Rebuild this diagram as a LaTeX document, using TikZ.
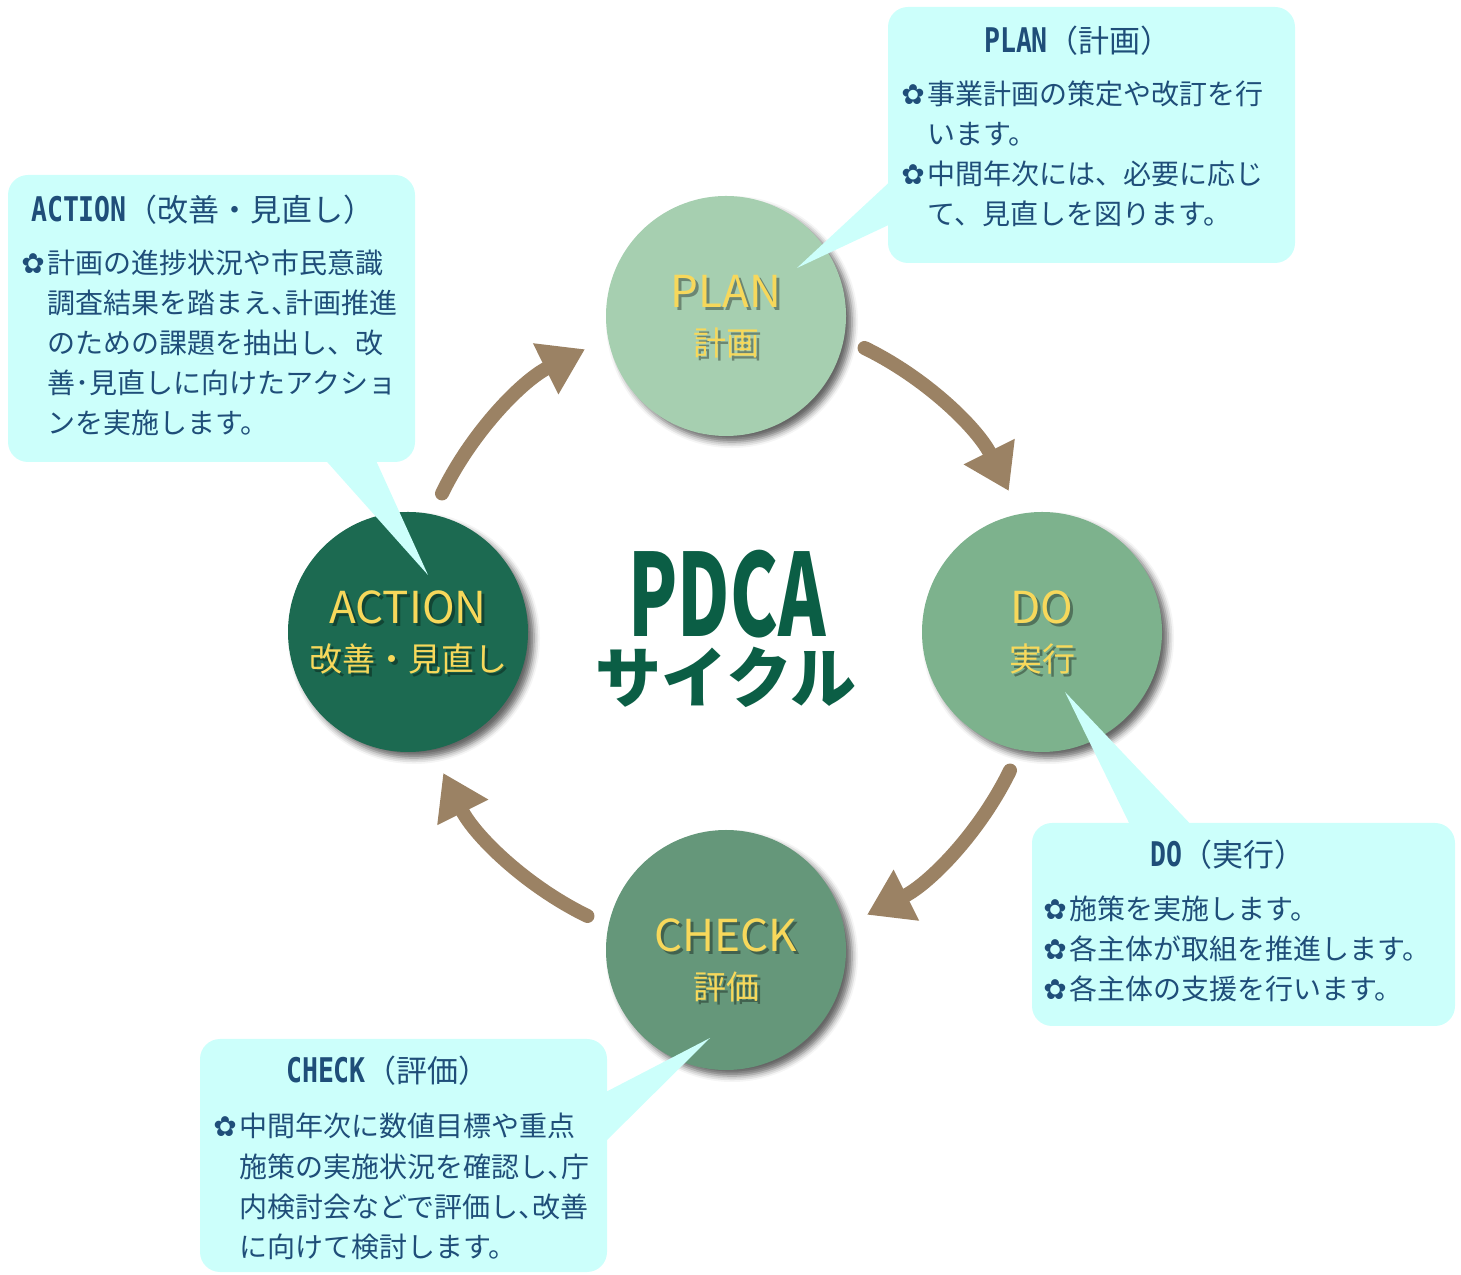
\documentclass[tikz,border=0pt]{standalone}
\usepackage{fontspec}
\setmainfont{Noto Sans CJK JP}
\newfontfamily\titlelatin{DejaVu Sans Mono}[FakeStretch=0.78]
\newfontfamily\flowerfont{DejaVu Sans}
\newfontfamily\pdcafont{Noto Sans CJK JP}[FakeStretch=0.63]
\usetikzlibrary{arrows.meta,shadows.blur}

\definecolor{planfill}{HTML}{A6CFB0}
\definecolor{dofill}{HTML}{7DB28D}
\definecolor{checkfill}{HTML}{65977A}
\definecolor{actionfill}{HTML}{1C6A51}
\definecolor{labelyellow}{HTML}{F7D85B}
\definecolor{pdcagreen}{HTML}{0B5E45}
\definecolor{notefill}{HTML}{CCFFFB}
\definecolor{noteblue}{HTML}{1F4E79}
\definecolor{cyclebrown}{HTML}{9B8264}

\newcommand{\flower}{\makebox[12pt][l]{\flowerfont\fontsize{14}{14}\selectfont\hspace{-1pt}✿}}
\newcommand{\indentbox}{\hphantom{\flower}}
\newcommand{\halfcomma}{{\addfontfeature{RawFeature=+halt}、}}

% yellow stage label with a soft shadow, inside a circle node
\newcommand{\stagelabels}[4][0pt]{%
  \node[stagemain, text=black, opacity=0.35] at ([shift={(1.5pt,2.5pt-#1)}]#2.center) {#3};
  \node[stagemain] (#2-main) at ([yshift=4pt-#1]#2.center) {#3};
  \node[stagesub, text=black, opacity=0.35] at ([shift={(1.5pt,-21.5pt-#1)}]#2.center) {#4};
  \node[stagesub] (#2-sub) at ([yshift=-20pt-#1]#2.center) {#4};
}

\tikzset{
  stage/.style={circle, minimum size=120pt, inner sep=0pt,
    blur shadow={shadow xshift=3pt, shadow yshift=-3pt, shadow blur radius=3pt, shadow opacity=60}},
  stagemain/.style={anchor=base, text=labelyellow, font=\fontsize{22}{22}\selectfont},
  stagesub/.style={anchor=base, text=labelyellow, font=\fontsize{16.5}{16.5}\selectfont},
  cyclearrow/.style={draw=cyclebrown, line width=7pt, line cap=round,
    -{Triangle[length=22pt, width=27pt]}},
  note/.style={rectangle, rounded corners=10pt, fill=notefill, inner sep=0pt},
  notetitle/.style={anchor=base, text=noteblue, font=\fontsize{15.5}{15.5}\selectfont},
  body/.style={anchor=base west, text=noteblue, inner sep=0pt, font=\fontsize{14}{14}\selectfont},
}

\begin{document}
\begin{tikzpicture}[x=0.5pt, y=0.5pt]
    \useasboundingbox (0,0) rectangle (1461,1274);

    % the four stages of the cycle
    \coordinate (centre) at (726,642);
    \node[stage, fill=planfill] (plan) at (726,958) {};
    \node[stage, fill=dofill] (do) at (1042,642) {};
    \node[stage, fill=checkfill] (check) at (726,324) {};
    \node[stage, fill=actionfill] (action) at (408,642) {};

    \stagelabels{plan}{PLAN}{計画}
    \stagelabels{do}{DO}{実行}
    \stagelabels[5pt]{check}{CHECK}{評価}
    \stagelabels{action}{ACTION}{改善・見直し}

    % arrows between the stages
    \foreach \a in {64,-26,-116,154}
        \draw[cyclearrow] ([shift={(\a:316)}]centre) arc[start angle=\a, end angle=\a-37.5, radius=316];

    % title in the middle
    \node[anchor=base, text=pdcagreen, inner sep=0pt,
        font=\pdcafont\bfseries\fontsize{57}{57}\selectfont] (pdca) at (727,637) {PDCA};
    \node[anchor=base, text=pdcagreen, inner sep=0pt,
        font=\bfseries\fontsize{33}{33}\selectfont] (cycle) at (726,571) {サイクル};

    % ==========================================
    % callouts
    % ==========================================

    % PLAN
    \coordinate (plantip) at (797,1006);
    \fill[notefill] (895,1097) -- (plantip) -- (895,1052) -- cycle;
    \node[note, minimum width=203.5pt, minimum height=128pt] (plannote) at (1091.5,1139) {};
    \node[notetitle] (plantitle) at (1078,1221) {{\titlelatin\bfseries\fontsize{17}{17}\selectfont PLAN}（計画）};
    \foreach \txt [count=\i from 0] in {\flower 事業計画の策定や改訂を行, \indentbox います。,
            \flower 中間年次には、必要に応じ, \indentbox て、見直しを図ります。}
        \node[body] (planline\i) at (903,1169-40*\i) {\txt};

    % ACTION
    \coordinate (actiontip) at (428,699);
    \fill[notefill] (320,820) -- (actiontip) -- (373,820) -- cycle;
    \node[note, minimum width=203.5pt, minimum height=143.5pt] (actionnote) at (211.5,955.5) {};
    \node[notetitle] (actiontitle) at (203,1052) {{\titlelatin\bfseries\fontsize{17}{17}\selectfont ACTION}（改善・見直し）};
    \foreach \txt [count=\i from 0] in {\flower 計画の進捗状況や市民意識, \indentbox 調査結果を踏まえ\halfcomma 計画推進,
            \indentbox のための課題を抽出し、改, \indentbox 善･見直しに向けたアクショ,
            \indentbox ンを実施します。}
        \node[body] (actionline\i) at (23,1000-40*\i) {\txt};

    % DO
    \coordinate (dotip) at (1065,582);
    \fill[notefill] (1133,443) -- (dotip) -- (1197,443) -- cycle;
    \node[note, minimum width=211.5pt, minimum height=101.5pt] (donote) at (1243.5,349.5) {};
    \node[notetitle] (dotitle) at (1228,407) {{\titlelatin\bfseries\fontsize{17}{17}\selectfont DO}（実行）};
    \foreach \txt [count=\i from 0] in {\flower 施策を実施します。, \flower 各主体が取組を推進します。,
            \flower 各主体の支援を行います。}
        \node[body] (doline\i) at (1045,354-40*\i) {\txt};

    % CHECK
    \coordinate (checktip) at (710,236);
    \fill[notefill] (600,179) -- (checktip) -- (600,127) -- cycle;
    \node[note, minimum width=203.5pt, minimum height=116.5pt] (checknote) at (403.5,118.5) {};
    \node[notetitle] (checktitle) at (388,191) {{\titlelatin\bfseries\fontsize{17}{17}\selectfont CHECK}（評価）};
    \foreach \txt [count=\i from 0] in {\flower 中間年次に数値目標や重点, \indentbox 施策の実施状況を確認し\halfcomma 庁,
            \indentbox 内検討会などで評価し\halfcomma 改善, \indentbox に向けて検討します。}
        \node[body] (checkline\i) at (215,137-40*\i) {\txt};

\end{tikzpicture}
\end{document}
